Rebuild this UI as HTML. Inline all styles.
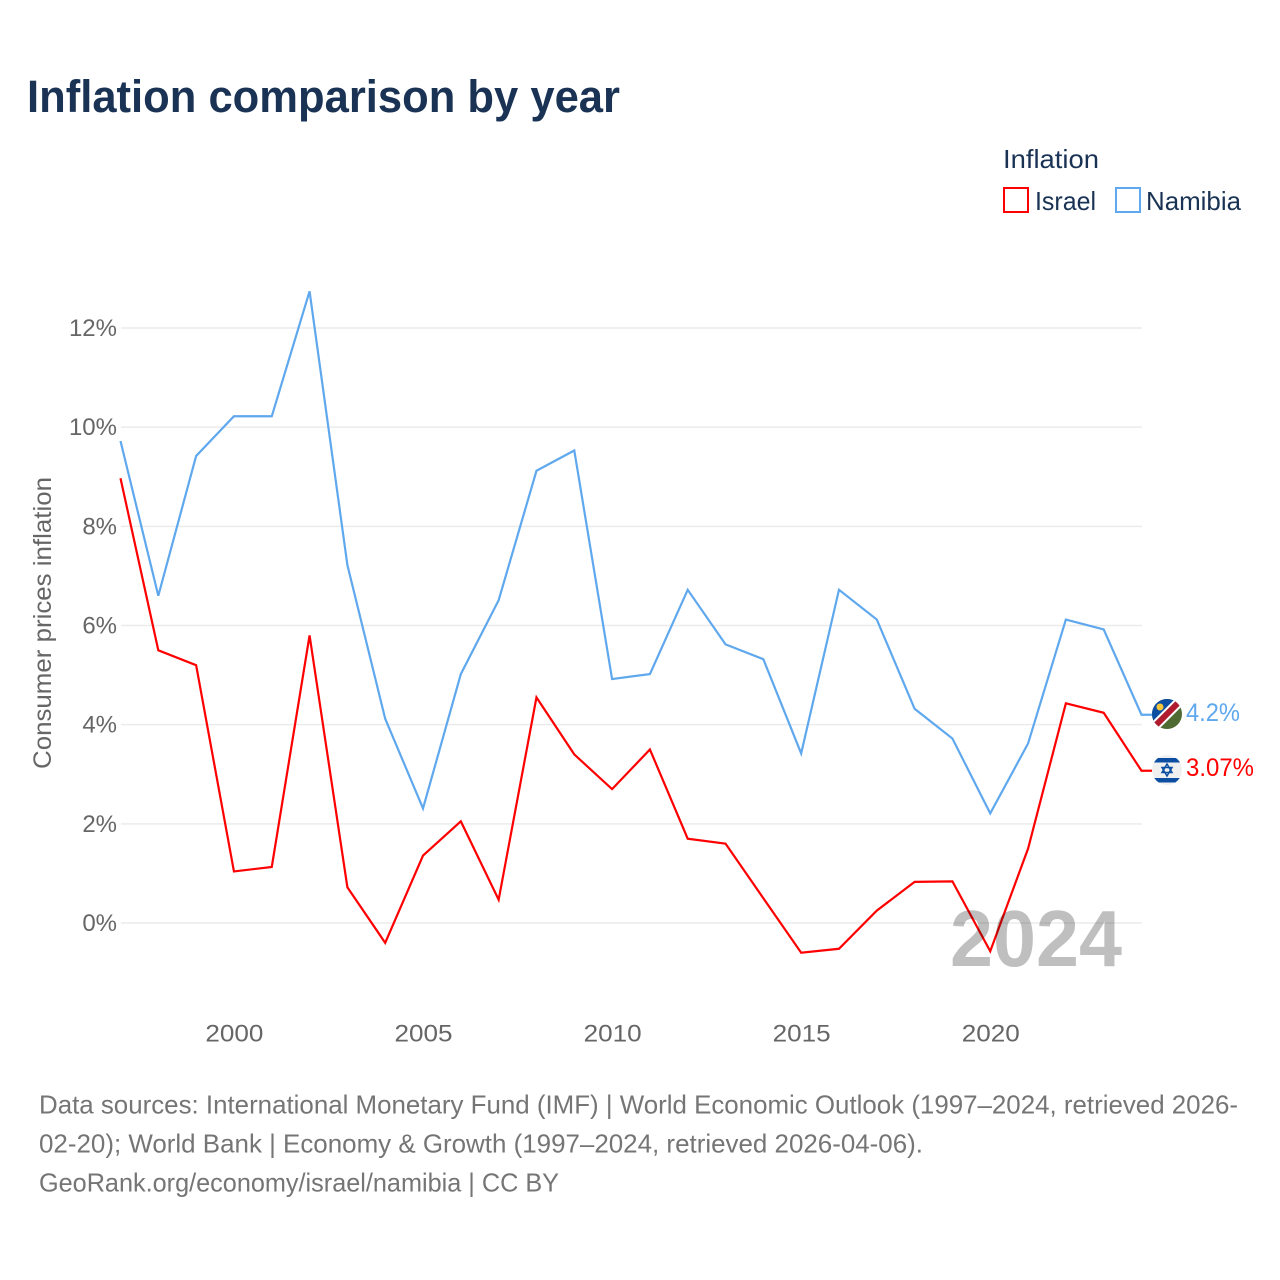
<!DOCTYPE html>
<html lang="en">
<head>
<meta charset="utf-8">
<title>Inflation comparison by year</title>
<style>
html,body{margin:0;padding:0;background:#fff;}
svg{display:block;font-family:"Liberation Sans",sans-serif;}
</style>
</head>
<body>
<svg id="chart" xmlns="http://www.w3.org/2000/svg" width="1280" height="1280" viewBox="0 0 1280 1280">
<rect width="1280" height="1280" fill="#fff"/>
<text x="27" y="112" font-size="45" font-weight="700" fill="#1a3355" textLength="593" lengthAdjust="spacingAndGlyphs">Inflation comparison by year</text>
<g>
<text x="1003" y="168" font-size="26" fill="#1a3355" textLength="96" lengthAdjust="spacingAndGlyphs">Inflation</text>
<rect x="1004" y="188" width="24" height="24" fill="#fff" stroke="#ff0000" stroke-width="2"/>
<text x="1035" y="210" font-size="26" fill="#1a3355" textLength="61" lengthAdjust="spacingAndGlyphs">Israel</text>
<rect x="1116" y="188" width="24" height="24" fill="#fff" stroke="#5fa8ee" stroke-width="2"/>
<text x="1146" y="210" font-size="26" fill="#1a3355" textLength="95" lengthAdjust="spacingAndGlyphs">Namibia</text>
</g>
<g id="grid"></g>
<g id="yticks"></g>
<g id="xticks"></g>
<text transform="translate(51,623) rotate(-90)" text-anchor="middle" font-size="25" fill="#666" textLength="292" lengthAdjust="spacingAndGlyphs">Consumer prices inflation</text>
<g id="series"></g>
<text x="950" y="966" font-size="80" font-weight="700" fill="#000" fill-opacity="0.25" textLength="172" lengthAdjust="spacingAndGlyphs">2024</text>
<g id="end-labels"></g>
<g>
<clipPath id="clip-na"><circle cx="1167" cy="714" r="15"/></clipPath>
<g clip-path="url(#clip-na)">
<rect x="1152" y="699" width="30" height="30" fill="#4f6b32"/>
<polygon points="1152,699 1182,699 1152,729" fill="#0b4ea2"/>
<line x1="1152" y1="729" x2="1182" y2="699" stroke="#fff" stroke-width="10"/>
<line x1="1152" y1="729" x2="1182" y2="699" stroke="#b01c2e" stroke-width="6"/>
<circle cx="1160" cy="707" r="3.5" fill="#f5c83c"/>
</g>
</g>
<g>
<clipPath id="clip-il"><circle cx="1167" cy="770" r="15"/></clipPath>
<g clip-path="url(#clip-il)">
<rect x="1152" y="755" width="30" height="30" fill="#f0f0f0"/>
<rect x="1152" y="758" width="30" height="4.5" fill="#0b4ea2"/>
<rect x="1152" y="778" width="30" height="4.5" fill="#0b4ea2"/>
<polygon points="1167,764 1172,772.5 1162,772.5" fill="none" stroke="#0b4ea2" stroke-width="1.5"/>
<polygon points="1167,776 1172,767.5 1162,767.5" fill="none" stroke="#0b4ea2" stroke-width="1.5"/>
</g>
</g>
<g font-size="26" fill="#757575">
<text x="39" y="1113.5" textLength="1199" lengthAdjust="spacingAndGlyphs">Data sources: International Monetary Fund (IMF) | World Economic Outlook (1997–2024, retrieved 2026-</text>
<text x="39" y="1152.5" textLength="884" lengthAdjust="spacingAndGlyphs">02-20); World Bank | Economy &amp; Growth (1997–2024, retrieved 2026-04-06).</text>
<text x="39" y="1191.5" textLength="520" lengthAdjust="spacingAndGlyphs">GeoRank.org/economy/israel/namibia | CC BY</text>
</g>
</svg>
<script>
const years = [1997,1998,1999,2000,2001,2002,2003,2004,2005,2006,2007,2008,2009,2010,2011,2012,2013,2014,2015,2016,2017,2018,2019,2020,2021,2022,2023,2024];
const namibia = [9.72,6.6,9.42,10.22,10.22,12.74,7.22,4.12,2.31,5.02,6.51,9.12,9.53,4.92,5.02,6.72,5.62,5.32,3.42,6.72,6.12,4.32,3.72,2.21,3.62,6.12,5.92,4.2];
const israel = [8.97,5.5,5.2,1.04,1.13,5.8,0.72,-0.4,1.36,2.05,0.47,4.55,3.4,2.7,3.5,1.7,1.6,0.5,-0.6,-0.52,0.25,0.83,0.84,-0.57,1.5,4.43,4.24,3.07];
const yTickValues = [0,2,4,6,8,10,12];
const xTickValues = [2000,2005,2010,2015,2020];

const NS = 'http://www.w3.org/2000/svg';
function xScale(year){ return 120.5 + (year - 1997) * (1141.5 - 120.5) / 27; }
function yScale(v){ return 923 - v * (923 - 328) / 12; }
function make(tag, attrs, parent, text){
  const el = document.createElementNS(NS, tag);
  for (const k in attrs) el.setAttribute(k, attrs[k]);
  if (text !== undefined) el.textContent = text;
  parent.appendChild(el);
  return el;
}
const grid = document.getElementById('grid');
const yticks = document.getElementById('yticks');
const xticks = document.getElementById('xticks');
const seriesG = document.getElementById('series');
const endLabels = document.getElementById('end-labels');

yTickValues.forEach(function(v){
  const line = make('line', {x1:121, x2:1142, y1:yScale(v), y2:yScale(v), stroke:'#ebebeb', 'stroke-width':1.5}, grid);
  
  
  const label = make('text', {x:117, y:yScale(v)+8, 'text-anchor':'end', 'font-size':24, fill:'#666'}, yticks, v + '%');
  
  
});
xTickValues.forEach(function(y){
  const label = make('text', {x:xScale(y)+0.5, y:1041.5, 'text-anchor':'middle', 'font-size':24, fill:'#666', textLength:58, lengthAdjust:'spacingAndGlyphs'}, xticks, String(y));
  
  
});
function pathFor(values){
  const last = values[values.length-1];
  return values.map(function(v,i){ return (i ? 'L' : 'M') + xScale(years[i]).toFixed(2) + ' ' + yScale(v).toFixed(2); }).join(' ') + ' L1152 ' + yScale(last).toFixed(2);
}
const lineNamibia = make('path', {d:pathFor(namibia), fill:'none', stroke:'#5fa8ee', 'stroke-width':2.2, 'stroke-linejoin':'miter'}, seriesG);


const lineIsrael = make('path', {d:pathFor(israel), fill:'none', stroke:'#ff0000', 'stroke-width':2.2, 'stroke-linejoin':'miter'}, seriesG);



const lastN = namibia[namibia.length-1];
const lastI = israel[israel.length-1];
const labelN = make('text', {x:1186, y:yScale(lastN)+6, 'font-size':25, fill:'#5fa8ee', textLength:54, lengthAdjust:'spacingAndGlyphs'}, endLabels, lastN + '%');


const labelI = make('text', {x:1186, y:yScale(lastI)+5, 'font-size':25, fill:'#ff0000', textLength:68, lengthAdjust:'spacingAndGlyphs'}, endLabels, lastI + '%');


</script>
</body>
</html>
